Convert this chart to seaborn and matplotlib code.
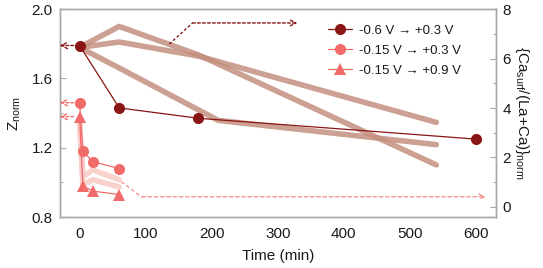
import numpy as np
import pandas as pd
import matplotlib
matplotlib.use("Agg")
import matplotlib.pyplot as plt
from matplotlib.ticker import MultipleLocator
import seaborn as sns

# Z_norm (left axis)
time_dark = [0, 60, 180, 600]
z_dark = [1.79, 1.43, 1.37, 1.25]
time_light = [0, 5, 20, 60]
z_circle = [1.46, 1.18, 1.12, 1.08]
z_triangle = [1.38, 0.98, 0.95, 0.93]

# Ca_surf/(La+Ca) norm (right axis)
t_ca_a = [0, 60, 180, 540]
ca_a1 = [6.45, 7.3, 6.15, 1.7]
ca_a2 = [6.45, 6.67, 6.1, 3.42]
t_ca_b = [0, 60, 210, 540]
ca_a3 = [6.45, 5.62, 3.5, 2.52]
t_ca_light = [0, 5, 20, 60]
ca_l1 = [3.45, 1.22, 1.5, 1.1]
ca_l2 = [3.45, 0.89, 1.1, 0.81]

labels = ["-0.6 V \u2192 +0.3 V", "-0.15 V \u2192 +0.3 V", "-0.15 V \u2192 +0.9 V"]

DARK = "#8a1515"
SALMON = "#f26b6b"
BROWN = "#c4907f"
PINK = "#f9cdc8"

sns.set_theme(style="white")
plt.rcParams['font.family'] = ['Liberation Sans', 'DejaVu Sans']
plt.rcParams['mathtext.fontset'] = 'custom'
plt.rcParams['mathtext.rm'] = 'Liberation Sans'

fig, ax = plt.subplots(figsize=(5.43, 2.68), dpi=100)
fig.subplots_adjust(left=0.110, right=0.913, top=0.966, bottom=0.190)
ax2 = ax.twinx()
ax.set_zorder(ax2.get_zorder() + 1)
ax.patch.set_visible(False)

# thick lines on right axis
for t, v in [(t_ca_a, ca_a1), (t_ca_a, ca_a2), (t_ca_b, ca_a3)]:
    sns.lineplot(x=t, y=v, ax=ax2, color=BROWN, lw=4.0, alpha=0.85,
                 solid_capstyle='round', solid_joinstyle='round')
for v in [ca_l1, ca_l2]:
    sns.lineplot(x=t_ca_light, y=v, ax=ax2, color=PINK, lw=4.0, alpha=0.9,
                 solid_capstyle='round', solid_joinstyle='round')

# dashed arrows towards right axis
ax2.plot([136, 171], [6.59, 7.44], color=DARK, lw=1, ls=(0, (2, 1.6)))
ax2.annotate("", xy=(330, 7.44), xytext=(171, 7.44),
             arrowprops=dict(arrowstyle='->', color=DARK, lw=1, ls=(0, (2, 1.6)),
                             shrinkA=0, shrinkB=0, mutation_scale=10))
ax2.plot([63, 94], [1.02, 0.41], color=SALMON, lw=0.9, ls=(0, (3, 2)), alpha=0.8)
ax2.annotate("", xy=(615, 0.41), xytext=(94, 0.41),
             arrowprops=dict(arrowstyle='->', color=SALMON, lw=0.9, ls=(0, (3, 2)),
                             shrinkA=0, shrinkB=0, mutation_scale=10, alpha=0.8))

# Z_norm series
sns.lineplot(x=time_dark, y=z_dark, ax=ax, color=DARK, lw=0.9, marker='o',
             markersize=8, markeredgewidth=0, label=labels[0])
sns.lineplot(x=time_light, y=z_circle, ax=ax, color=SALMON, lw=0.9, marker='o',
             markersize=8, markeredgewidth=0, label=labels[1])
sns.lineplot(x=time_light, y=z_triangle, ax=ax, color=SALMON, lw=0.9, marker='^',
             markersize=8, markeredgewidth=0, label=labels[2])

# dashed arrows towards left axis
for yv, c in [(z_dark[0], DARK), (z_circle[0], SALMON), (z_triangle[0], SALMON)]:
    ax.annotate("", xy=(-30, yv), xytext=(-9, yv),
                arrowprops=dict(arrowstyle='->', color=c, lw=1, ls=(0, (2, 1.5)),
                                shrinkA=0, shrinkB=0, mutation_scale=11))

ax.set_xlim(-30, 630)
ax.set_ylim(0.8, 2.0)
ax2.set_ylim(-0.41, 8.0)
ax.set_xticks([0, 100, 200, 300, 400, 500, 600])
ax.set_yticks([0.8, 1.2, 1.6, 2.0])
ax.yaxis.set_major_formatter(matplotlib.ticker.FormatStrFormatter('%.1f'))
ax2.set_yticks([0, 2, 4, 6, 8])
ax.xaxis.set_minor_locator(MultipleLocator(50))
ax.yaxis.set_minor_locator(MultipleLocator(0.2))
ax2.yaxis.set_minor_locator(MultipleLocator(1))

for a in (ax, ax2):
    for s in a.spines.values():
        s.set_color('#a8a8a8')
        s.set_linewidth(1.0)
    a.tick_params(which='major', direction='in', length=4, width=0.8,
                  color='#a8a8a8', labelsize=11, labelcolor='#1a1a1a', pad=5)
    a.tick_params(which='minor', direction='in', length=2, width=0.8, color='#a8a8a8')
    a.grid(False)
ax.tick_params(axis='x', which='major', pad=7)
ax.tick_params(axis='y', which='both', left=True, right=False)
ax2.tick_params(axis='y', which='both', right=True, left=False)

ax.set_xlabel("Time (min)", fontsize=11, color='#1a1a1a', labelpad=6)
ax.set_ylabel("Z$_{\\mathregular{norm}}$", fontsize=11, color='#1a1a1a', labelpad=6)
ax2.set_ylabel("{Ca$_{\\mathregular{surf}}$/(La+Ca)}$_{\\mathregular{norm}}$",
               fontsize=11, color='#1a1a1a', rotation=270, labelpad=14)

leg = ax.legend(loc='upper left', bbox_to_anchor=(0.615, 0.927), frameon=False,
                fontsize=9.5, borderpad=0, borderaxespad=0, handlelength=1.8,
                handletextpad=0.55, labelspacing=0.6)
for txt in leg.get_texts():
    txt.set_color('#1a1a1a')

fig.savefig("out.png", dpi=100)
